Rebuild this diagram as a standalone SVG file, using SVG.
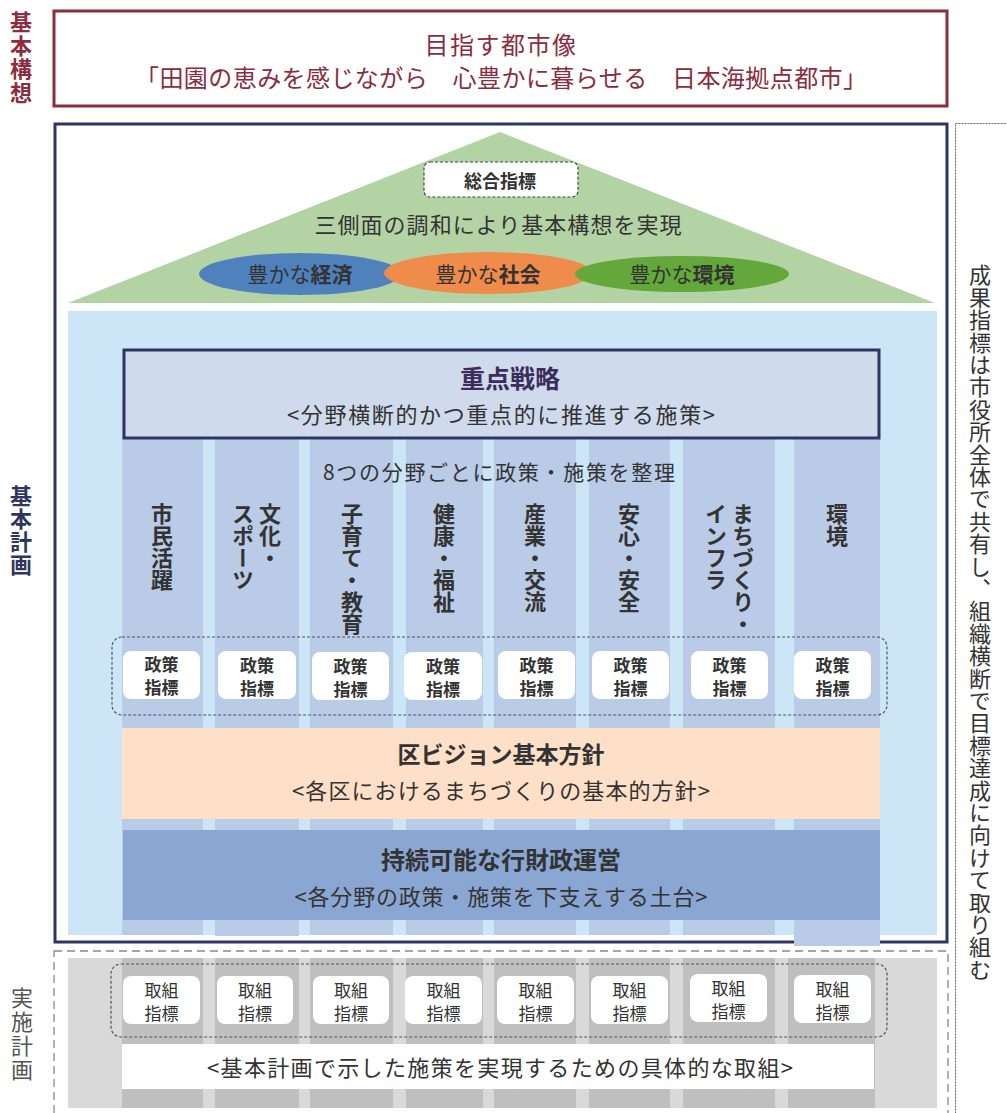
<svg xmlns="http://www.w3.org/2000/svg" width="1007" height="1113" viewBox="0 0 1007 1113">
<style>
text{font-family:"Noto Sans CJK JP","Noto Sans",sans-serif;fill:#333}
.b{font-weight:bold}
.c{text-anchor:middle}
.v{writing-mode:vertical-rl}
.col{fill:#BACBE7}
.gcol{fill:#BFBFBF}
.ind{fill:#fff}
.dash{fill:none;stroke:#555;stroke-width:1.2;stroke-dasharray:3 2}
.it{font-size:17px;text-anchor:middle}
.red{fill:#8B2D3E}
.navy{fill:#2E3560}
</style>
<rect width="1007" height="1113" fill="#fff"/>

<g id="kihon-kousou">
<rect x="54" y="11" width="893" height="95" fill="#fff" stroke="#8B2D3E" stroke-width="3"/>
<text class="c red" x="501" y="54" font-size="24" letter-spacing="1.5">目指す都市像</text>
<text class="c red" x="501" y="87" font-size="24" textLength="732" lengthAdjust="spacing">「田園の恵みを感じながら　心豊かに暮らせる　日本海拠点都市」</text>
<text class="v b red" x="21" y="11" font-size="22" letter-spacing="1.5">基本構想</text>
</g>

<g id="labels">
<text class="v b navy" x="21" y="485" font-size="22" letter-spacing="1">基本計画</text>
<text class="v" x="22" y="987" font-size="22" letter-spacing="2" style="fill:#555">実施計画</text>
</g>

<g id="kihon-keikaku">
<rect x="55" y="124" width="892" height="818" fill="#fff" stroke="#2E3560" stroke-width="3"/>
<polygon points="500,132 935,303 68,303" fill="#B4D3A5"/>
<rect x="424" y="162" width="154" height="35" rx="6" fill="#fff" stroke="#444" stroke-width="1.2" stroke-dasharray="3 2"/>
<text class="c b" x="500" y="188" font-size="18">総合指標</text>
<text class="c" x="498" y="233" font-size="22" textLength="367" lengthAdjust="spacing">三側面の調和により基本構想を実現</text>
<ellipse cx="300" cy="274" rx="101" ry="21" fill="#4F81BD"/>
<ellipse cx="488" cy="273" rx="104" ry="21" fill="#EF8B4B"/>
<ellipse cx="682" cy="274" rx="107" ry="18" fill="#64A83B"/>
<text class="c" x="300" y="282" font-size="21">豊かな<tspan class="b">経済</tspan></text>
<text class="c" x="488" y="282" font-size="21">豊かな<tspan class="b">社会</tspan></text>
<text class="c" x="682" y="282" font-size="21">豊かな<tspan class="b">環境</tspan></text>
<rect x="68" y="311" width="869" height="624" fill="#CCE6F8"/>
</g>

<g id="columns">
<rect class="col" x="122" y="400" width="81" height="535"/>
<rect class="col" x="215" y="400" width="84" height="536"/>
<rect class="col" x="310" y="400" width="83" height="535"/>
<rect class="col" x="406" y="400" width="77" height="535"/>
<rect class="col" x="494" y="400" width="82" height="535"/>
<rect class="col" x="589" y="400" width="81" height="535"/>
<rect class="col" x="683" y="400" width="92" height="535"/>
<rect class="col" x="794" y="400" width="86" height="546"/>
</g>

<g id="juten">
<rect x="124" y="350" width="755" height="88" fill="#CFDAED" stroke="#2E3560" stroke-width="3"/>
<text class="c b" x="510" y="388" font-size="25" style="fill:#3D2D5C">重点戦略</text>
<text class="c" x="501" y="423" font-size="22" textLength="428" lengthAdjust="spacing">&lt;分野横断的かつ重点的に推進する施策&gt;</text>
</g>

<g id="fields">
<text class="c" x="499" y="480" font-size="21" textLength="352" lengthAdjust="spacing">8つの分野ごとに政策・施策を整理</text>
<text class="v b" x="162" y="503" font-size="22">市民活躍</text>
<text class="v b" x="270" y="503" font-size="22">文化・</text>
<text class="v b" x="243" y="503" font-size="22">スポーツ</text>
<text class="v b" x="352" y="503" font-size="22">子育て・教育</text>
<text class="v b" x="444" y="503" font-size="22">健康・福祉</text>
<text class="v b" x="535" y="503" font-size="22">産業・交流</text>
<text class="v b" x="629" y="503" font-size="22">安心・安全</text>
<text class="v b" x="743" y="503" font-size="22">まちづくり・</text>
<text class="v b" x="716" y="503" font-size="22">インフラ</text>
<text class="v b" x="837" y="503" font-size="22">環境</text>
</g>

<g id="seisaku-shihyo">
<rect class="dash" x="112" y="637" width="775" height="78" rx="10"/>
<rect class="ind" x="123" y="651" width="77" height="48" rx="8"/>
<rect class="ind" x="218" y="651" width="78" height="48" rx="8"/>
<rect class="ind" x="312" y="652" width="77" height="48" rx="8"/>
<rect class="ind" x="404" y="652" width="78" height="48" rx="8"/>
<rect class="ind" x="498" y="651" width="77" height="48" rx="8"/>
<rect class="ind" x="592" y="651" width="77" height="48" rx="8"/>
<rect class="ind" x="691" y="651" width="77" height="48" rx="8"/>
<rect class="ind" x="794" y="651" width="77" height="48" rx="8"/>
<g class="b">
<text class="it" x="161.5" y="671">政策</text><text class="it" x="161.5" y="694">指標</text>
<text class="it" x="257" y="672">政策</text><text class="it" x="257" y="695">指標</text>
<text class="it" x="350.5" y="673">政策</text><text class="it" x="350.5" y="696">指標</text>
<text class="it" x="443" y="673">政策</text><text class="it" x="443" y="696">指標</text>
<text class="it" x="536.5" y="672">政策</text><text class="it" x="536.5" y="695">指標</text>
<text class="it" x="630.5" y="672">政策</text><text class="it" x="630.5" y="695">指標</text>
<text class="it" x="729.5" y="672">政策</text><text class="it" x="729.5" y="695">指標</text>
<text class="it" x="832.5" y="672">政策</text><text class="it" x="832.5" y="695">指標</text>
</g>
</g>

<g id="ku-vision">
<rect x="122" y="728" width="758" height="91" fill="#FDE0C7"/>
<text class="c b" x="501" y="763" font-size="23">区ビジョン基本方針</text>
<text class="c" x="501" y="799" font-size="22" textLength="418" lengthAdjust="spacing">&lt;各区におけるまちづくりの基本的方針&gt;</text>
</g>

<g id="gyozaisei">
<rect x="123" y="830" width="757" height="90" fill="#8AA6D3"/>
<text class="c b" x="501" y="869" font-size="24">持続可能な行財政運営</text>
<text class="c" x="501" y="905" font-size="22" textLength="413" lengthAdjust="spacing">&lt;各分野の政策・施策を下支えする土台&gt;</text>
</g>

<g id="jisshi-keikaku">
<rect x="68" y="958" width="869" height="150" fill="#D9D9D9"/>
<rect class="gcol" x="122" y="958" width="81" height="150"/>
<rect class="gcol" x="215" y="958" width="84" height="150"/>
<rect class="gcol" x="310" y="958" width="83" height="150"/>
<rect class="gcol" x="406" y="958" width="77" height="150"/>
<rect class="gcol" x="494" y="958" width="82" height="150"/>
<rect class="gcol" x="589" y="958" width="81" height="150"/>
<rect class="gcol" x="683" y="958" width="92" height="150"/>
<rect class="gcol" x="788" y="958" width="87" height="150"/>
<rect x="54" y="951" width="894" height="175" fill="none" stroke="#888" stroke-width="1.3" stroke-dasharray="8 5"/>
<rect class="dash" x="111" y="964" width="776" height="73" rx="10"/>
<rect class="ind" x="123" y="976" width="77" height="48" rx="8"/>
<rect class="ind" x="217" y="976" width="76" height="48" rx="8"/>
<rect class="ind" x="313" y="976" width="76" height="48" rx="8"/>
<rect class="ind" x="405" y="976" width="77" height="48" rx="8"/>
<rect class="ind" x="497" y="976" width="77" height="48" rx="8"/>
<rect class="ind" x="591" y="976" width="77" height="48" rx="8"/>
<rect class="ind" x="690" y="974" width="77" height="48" rx="8"/>
<rect class="ind" x="794" y="975" width="77" height="48" rx="8"/>
<text class="it" x="161.5" y="997">取組</text><text class="it" x="161.5" y="1020">指標</text>
<text class="it" x="255" y="997">取組</text><text class="it" x="255" y="1020">指標</text>
<text class="it" x="351" y="997">取組</text><text class="it" x="351" y="1020">指標</text>
<text class="it" x="443.5" y="997">取組</text><text class="it" x="443.5" y="1020">指標</text>
<text class="it" x="535.5" y="997">取組</text><text class="it" x="535.5" y="1020">指標</text>
<text class="it" x="629.5" y="997">取組</text><text class="it" x="629.5" y="1020">指標</text>
<text class="it" x="728.5" y="995">取組</text><text class="it" x="728.5" y="1018">指標</text>
<text class="it" x="832.5" y="996">取組</text><text class="it" x="832.5" y="1019">指標</text>
<rect x="122" y="1044" width="752" height="45" fill="#fff"/>
<text class="c" x="500" y="1076" font-size="22" textLength="586" lengthAdjust="spacing">&lt;基本計画で示した施策を実現するための具体的な取組&gt;</text>
</g>

<g id="seika-shihyo">
<rect x="955.5" y="123.5" width="70" height="1010" fill="none" stroke="#666" stroke-width="1" stroke-dasharray="2 1"/>
<text class="v" x="980" y="264" font-size="22" letter-spacing="0.4">成果指標は市役所全体で共有し、組織横断で目標達成に向けて取り組む</text>
</g>
</svg>
